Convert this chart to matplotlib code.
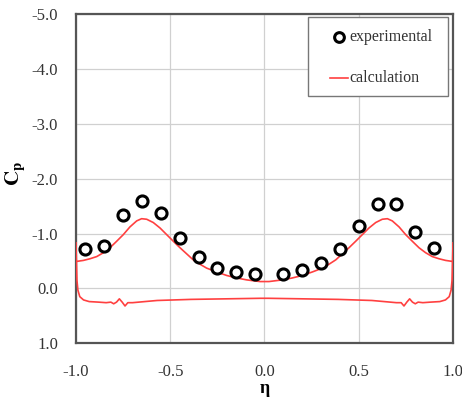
import matplotlib
matplotlib.use("Agg")
import matplotlib.pyplot as plt
from matplotlib.patches import Rectangle

plt.rcParams['font.family'] = ['Liberation Serif', 'DejaVu Serif']
plt.rcParams['mathtext.fontset'] = 'stix'

# experimental data
exp_eta = [-0.95, -0.85, -0.75, -0.65, -0.55, -0.45, -0.35, -0.25, -0.15, -0.05,
           0.10, 0.20, 0.30, 0.40, 0.50, 0.60, 0.70, 0.80, 0.90]
exp_cp = [-0.72, -0.78, -1.33, -1.59, -1.38, -0.91, -0.57, -0.38, -0.30, -0.26,
          -0.27, -0.33, -0.47, -0.71, -1.13, -1.54, -1.54, -1.02, -0.74]

# calculation, upper surface
up_eta = [-1.000, -0.961, -0.926, -0.890, -0.855, -0.820, -0.784, -0.749, -0.714,
          -0.678, -0.652, -0.625, -0.590, -0.554, -0.519, -0.484, -0.448, -0.413,
          -0.378, -0.342, -0.307, -0.254, -0.200, -0.147, -0.094, -0.024,
          0.024, 0.094, 0.147, 0.200, 0.254, 0.307, 0.342, 0.378, 0.413, 0.448,
          0.484, 0.519, 0.554, 0.590, 0.625, 0.652, 0.678, 0.714, 0.749, 0.784,
          0.820, 0.855, 0.890, 0.926, 0.961, 1.000]
up_cp = [-0.49, -0.51, -0.54, -0.58, -0.65, -0.74, -0.86, -0.98, -1.12,
         -1.23, -1.27, -1.26, -1.20, -1.10, -0.98, -0.86, -0.74, -0.63,
         -0.52, -0.44, -0.37, -0.30, -0.235, -0.19, -0.155, -0.125,
         -0.125, -0.155, -0.19, -0.235, -0.30, -0.37, -0.44, -0.52, -0.63, -0.74,
         -0.86, -0.98, -1.10, -1.20, -1.26, -1.27, -1.23, -1.12, -0.98, -0.86,
         -0.74, -0.65, -0.58, -0.54, -0.51, -0.49]

# calculation, lower surface
lo_eta = [-1.000, -0.995, -0.990, -0.980, -0.960, -0.930, -0.880, -0.840, -0.815, -0.800,
          -0.785, -0.770, -0.755, -0.740, -0.725, -0.700, -0.570, -0.390, -0.020,
          0.020, 0.390, 0.570, 0.700, 0.725, 0.740, 0.755, 0.770, 0.785, 0.800,
          0.815, 0.840, 0.880, 0.930, 0.960, 0.980, 0.990, 0.995, 1.000]
lo_cp = [-0.83, -0.15, 0.03, 0.15, 0.21, 0.24, 0.25, 0.26, 0.25, 0.28,
         0.25, 0.19, 0.25, 0.32, 0.26, 0.26, 0.22, 0.20, 0.18,
         0.18, 0.20, 0.22, 0.26, 0.26, 0.32, 0.25, 0.19, 0.25, 0.28,
         0.25, 0.26, 0.25, 0.24, 0.21, 0.15, 0.03, -0.15, -0.83]

x_ticks = [-1.0, -0.5, 0.0, 0.5, 1.0]
y_ticks = [-5.0, -4.0, -3.0, -2.0, -1.0, 0.0, 1.0]
legend_labels = ['experimental', 'calculation']

red = '#FF4040'
fig = plt.figure(figsize=(4.62, 3.99), dpi=100)
ax = fig.add_axes([0.1645, 0.1396, 0.816, 0.8254])

ax.plot(up_eta, up_cp, color=red, lw=1.2, zorder=3)
ax.plot(lo_eta, lo_cp, color=red, lw=1.2, zorder=3)
ax.plot(exp_eta, exp_cp, linestyle='none', marker='o', ms=8, mew=2.2,
        mec='black', mfc='white', zorder=4)

ax.set_xlim(-1.0, 1.0)
ax.set_ylim(1.0, -5.0)
ax.set_xticks(x_ticks)
ax.set_yticks(y_ticks)
ax.set_xticklabels([f"{v:.1f}" for v in x_ticks])
ax.set_yticklabels([f"{v:.1f}" for v in y_ticks])
ax.tick_params(length=0, labelsize=12, labelcolor='#333333')
ax.tick_params(axis='y', pad=13)
ax.tick_params(axis='x', pad=15)
ax.grid(True, color='#d0d0d0', lw=0.9)
ax.set_axisbelow(True)
for s in ax.spines.values():
    s.set_color('#555555')
    s.set_linewidth(1.6)

ax.set_xlabel('η', fontsize=13, fontweight='bold')
ax.xaxis.set_label_coords(0.5, -0.112)
ax.set_ylabel(r'$\mathbf{C_p}$', fontsize=15)
ax.yaxis.set_label_coords(-0.128, 0.517)

# legend box (drawn in axes coordinates)
T = ax.transAxes
ax.add_patch(Rectangle((0.6154, 0.751), 0.3713, 0.2399, transform=T,
                       facecolor='white', edgecolor='#777777', lw=1.0, zorder=5))
ax.plot([0.6975], [0.931], transform=T, linestyle='none', marker='o', ms=7, mew=2.2,
        mec='black', mfc='white', zorder=6, clip_on=False)
ax.text(0.726, 0.931, legend_labels[0], transform=T, fontsize=11.5, color='#333333',
        va='center', ha='left', zorder=6)
ax.plot([0.674, 0.7215], [0.806, 0.806], transform=T, color=red, lw=1.2, zorder=6,
        clip_on=False)
ax.text(0.724, 0.806, legend_labels[1], transform=T, fontsize=11.5, color='#333333',
        va='center', ha='left', zorder=6)

fig.savefig('out.png', dpi=100)
